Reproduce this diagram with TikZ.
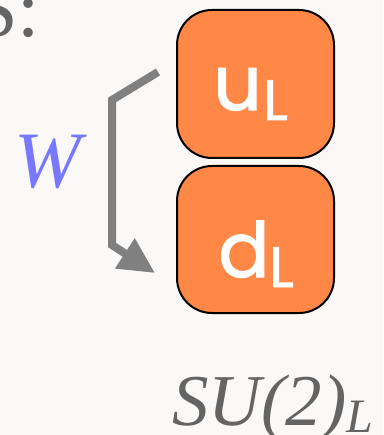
\documentclass[tikz,border=0pt]{standalone}
\usepackage{fontspec}
\usetikzlibrary{arrows.meta}
\setmainfont{Liberation Serif}
\newfontfamily\quarkfont[FakeBold=1.6]{Poppins}

\definecolor{paper}{HTML}{FAF9F7}
\definecolor{quarkorange}{HTML}{FF8847}
\definecolor{linkgray}{HTML}{808080}
\definecolor{bosonblue}{HTML}{7878FF}
\definecolor{labelgray}{HTML}{646464}

\tikzset{
  quarkbox/.style={draw=black, line width=2pt, fill=quarkorange,
    rounded corners=35pt, minimum width=157pt, minimum height=148pt,
    inner sep=0pt},
  quarkname/.style={text=white, inner sep=0pt, font=\quarkfont\fontsize{76}{76}\selectfont},
  quarksub/.style={text=white, inner sep=0pt, font=\quarkfont\fontsize{57}{57}\selectfont},
  transition/.style={draw=linkgray, line width=8pt, line join=miter,
    -{Triangle[length=36pt,width=34pt]}},
  biglabel/.style={inner sep=0pt, font=\fontsize{80}{80}\selectfont},
}

\begin{document}
\begin{tikzpicture}[x=1pt, y=-1pt]
  % canvas
  \fill[paper] (0,0) rectangle (383,435);
  \useasboundingbox (0,0) rectangle (383,435);
  \clip (0,0) rectangle (383,435);

  % tail of the heading above
  \node[biglabel, text=labelgray, anchor=base east] (head) at (40,37) {S:};

  % the doublet
  \node[quarkbox] (u) at (255.5,84) {};
  \node[quarkbox, minimum height=147pt] (d) at (255.5,239.5) {};

  \node[quarkname, anchor=base west] (uname) at (213,110) {u};
  \node[quarksub, anchor=base west] (usub) at (263,120) {L};
  \node[quarkname, anchor=base west] (dname) at (218,277) {d};
  \node[quarksub, anchor=base west] (dsub) at (269,287) {L};

  % W transition from u to d
  \coordinate (wfrom) at (158,72);
  \coordinate (wtop) at (112,100);
  \coordinate (wbot) at (112,245);
  \coordinate (wto) at (155,273);
  \draw[transition] (wfrom) -- (wtop) -- (wbot) -- (wto);

  \node[biglabel, text=bosonblue, anchor=base west, font=\itshape\fontsize{80}{80}\selectfont] (wlabel) at (14,188) {W};

  % group label
  \node[biglabel, text=labelgray, anchor=base west, font=\itshape\fontsize{73}{73}\selectfont] (group) at (172,425) {SU(2)\raisebox{-7pt}{\fontsize{48}{48}\selectfont L}};
\end{tikzpicture}
\end{document}
